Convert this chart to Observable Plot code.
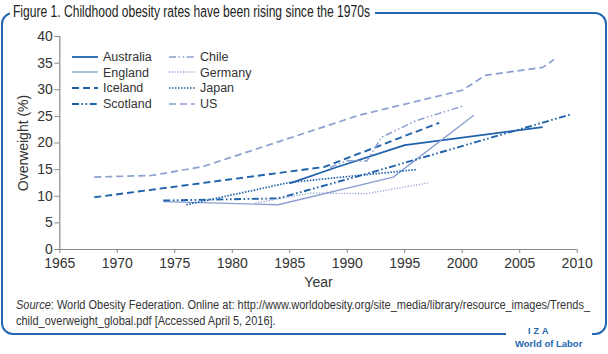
<!DOCTYPE html>
<html>
<head>
<meta charset="utf-8">
<script src="https://cdn.jsdelivr.net/npm/d3@7"></script>
<script src="https://cdn.jsdelivr.net/npm/@observablehq/plot@0.6"></script>
<style>
  html, body { margin: 0; padding: 0; background: #fff; }
  #wrap { position: relative; width: 608px; height: 354px; overflow: hidden; font-family: "Liberation Sans", Arial, sans-serif; color: #333; }
  #frame { position: absolute; left: 1px; top: 12px; width: 602px; height: 319px; border: 2px solid #2566b0; border-radius: 12px; }
  #titlebg { position: absolute; left: 10px; top: 3px; height: 20px; background: #fff; }
  #title { position: absolute; left: 13px; top: 3px; font-size: 16px; line-height: 18px; color: #222; white-space: nowrap; transform-origin: 0 50%; }
  #chart { position: absolute; left: 0; top: 0; }
  #legend { position: absolute; left: 72px; top: 49px; font-size: 12.5px; color: #333; }
  .lg { position: absolute; white-space: nowrap; height: 16px; line-height: 16px; }
  .lg svg { vertical-align: middle; margin-right: 5px; position: relative; top: -1px; }
  .src { position: absolute; left: 16px; font-size: 12px; line-height: 16px; color: #333; white-space: nowrap; transform-origin: 0 50%; }
  #logo { position: absolute; left: 506px; top: 325px; width: 86px; height: 29px; background: #fff; color: #2566b0; font-weight: bold; font-family: "Liberation Sans", sans-serif; }
  #logo .a { position: absolute; left: 22px; top: 1px; font-size: 9px; letter-spacing: 3px; }
  #logo .b { position: absolute; left: 9px; top: 13px; font-size: 9.5px; }
</style>
</head>
<body>
<div id="wrap">
  <div id="frame"></div>
  <div id="chart"></div>
  <div id="titlebg"></div>
  <div id="title">Figure 1. Childhood obesity rates have been rising since the 1970s</div>
  <div id="legend"></div>
  <div class="src" id="src1" style="top:297px"><i>Source</i>: World Obesity Federation. Online at: http://www.worldobesity.org/site_media/library/resource_images/Trends_</div>
  <div class="src" id="src2" style="top:313px">child_overweight_global.pdf [Accessed April 5, 2016].</div>
  <div id="logo"><span class="a">IZA</span><span class="b">World of Labor</span></div>
</div>
<script>
// ---- Data ----
const countries = ["Australia", "England", "Iceland", "Scotland", "Chile", "Germany", "Japan", "US"];
const australia = [[1985, 12.4], [1989, 15.4], [1995, 19.6], [2007, 23.0]];
const england   = [[1974, 9.0], [1984, 8.4], [1994, 13.6], [2001, 25.2]];
const iceland   = [[1968, 9.8], [1988, 15.5], [1998, 23.8]];
const scotland  = [[1974, 9.2], [1984, 9.6], [1992, 14.4], [1999, 18.8], [2009.5, 25.4]];
const chile     = [[1988.5, 15.4], [1990, 16.7], [1991.7, 16.6], [1993, 21.1], [1996, 24.2], [2000, 26.9]];
const germany   = [[1982, 8.7], [1986.8, 10.6], [1991.7, 10.5], [1997, 12.5]];
const japan     = [[1976, 8.4], [1985, 12.6], [1996, 15.0]];
const us        = [[1968, 13.6], [1973, 13.9], [1977.5, 15.6], [1991, 25.2], [2000, 29.9], [2002, 32.7], [2007, 34.2], [2008, 35.7]];
const xTicks = [1965, 1970, 1975, 1980, 1985, 1990, 1995, 2000, 2005, 2010];
const yTicks = [0, 5, 10, 15, 20, 25, 30, 35, 40];

const seriesData = { Australia: australia, England: england, Iceland: iceland, Scotland: scotland, Chile: chile, Germany: germany, Japan: japan, US: us };

// ---- Styles ----
const dark = "#1f62ab", light = "#8b9fd0";
const styles = {
  Australia: { stroke: dark,  width: 1.8, dash: null },
  England:   { stroke: light, width: 1.4, dash: null },
  Iceland:   { stroke: dark,  width: 1.9, dash: "7,4" },
  Scotland:  { stroke: dark,  width: 1.9, dash: "7,2.5,1.6,2.5,1.6,2.5" },
  Chile:     { stroke: light, width: 1.5, dash: "7,2.5,1.6,2.5,1.6,2.5" },
  Germany:   { stroke: light, width: 1.3, dash: "1.2,1.6" },
  Japan:     { stroke: dark,  width: 1.7, dash: "1.5,1.5" },
  US:        { stroke: light, width: 1.7, dash: "7,4" }
};

const rows = countries.flatMap(c => seriesData[c].map(([year, value]) => ({ country: c, year, value })));

const lineMarks = countries.map(c => Plot.line(rows.filter(d => d.country === c), {
  x: "year", y: "value",
  stroke: styles[c].stroke, strokeWidth: styles[c].width,
  strokeDasharray: styles[c].dash || undefined,
  strokeLinecap: "butt", strokeLinejoin: "round"
}));

const chart = Plot.plot({
  width: 608, height: 290,
  marginLeft: 59.3, marginRight: 31.3, marginTop: 36, marginBottom: 41,
  style: { fontFamily: "Liberation Sans, Arial, sans-serif", fontSize: "14px", color: "#333", background: "transparent", overflow: "visible" },
  x: { domain: [1965, 2010] },
  y: { domain: [0, 40] },
  marks: [
    Plot.axisX({ ticks: xTicks, tickFormat: d => String(d), tickSize: 4, tickPadding: 5, stroke: "#888", label: "Year", labelAnchor: "center", labelOffset: 37, labelArrow: "none", fontSize: 14 }),
    Plot.axisY({ ticks: yTicks, tickSize: 5, tickPadding: 2, stroke: "#888", label: "Overweight (%)", labelAnchor: "center", labelOffset: 42, labelArrow: "none", fontSize: 14 }),
    Plot.ruleY([0], { stroke: "#888", strokeWidth: 1.2 }),
    Plot.ruleX([1965], { stroke: "#888", strokeWidth: 1.2 }),
    ...lineMarks
  ]
});
document.getElementById("chart").appendChild(chart);

// ---- Legend ----
const legend = document.getElementById("legend");
countries.forEach((c, i) => {
  const col = Math.floor(i / 4), row = i % 4;
  const s = styles[c];
  const div = document.createElement("div");
  div.className = "lg";
  div.style.left = (col * 97) + "px";
  div.style.top = (row * 15.6) + "px";
  div.innerHTML = `<svg width="26" height="6"><line x1="0" y1="3" x2="26" y2="3" stroke="${s.stroke}" stroke-width="${s.width}" ${s.dash ? `stroke-dasharray="${s.dash}"` : ""}/></svg>${c}`;
  legend.appendChild(div);
});

// ---- Condense texts to the reference widths ----
function fit(el, target) {
  const w = el.getBoundingClientRect().width;
  if (w > 0) el.style.transform = `scaleX(${target / w})`;
  return Math.min(w, target);
}
const tw = fit(document.getElementById("title"), 357);
const bg = document.getElementById("titlebg");
bg.style.width = (tw + 8) + "px";
const s1 = document.getElementById("src1");
const w1 = s1.getBoundingClientRect().width;
const k = 574 / w1;
s1.style.transform = `scaleX(${k})`;
document.getElementById("src2").style.transform = `scaleX(${k})`;
</script>
</body>
</html>
